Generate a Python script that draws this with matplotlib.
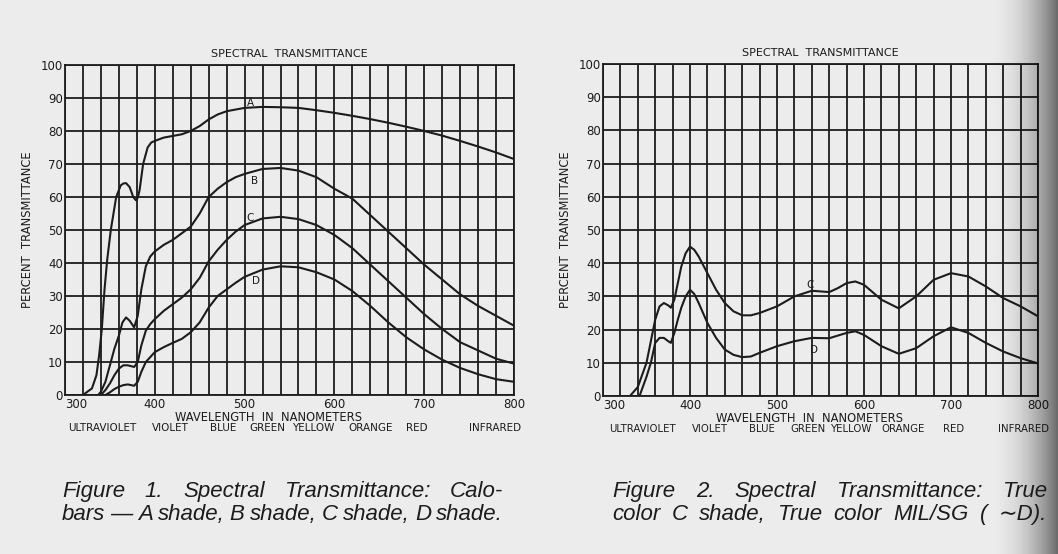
import numpy as np
import matplotlib.pyplot as plt

# ---- Figure 1 : Calobars A, B, C, D shades ----
wl_A = [320, 330, 335, 338, 341, 344, 347, 351, 357, 362, 365, 368, 372, 376, 379, 381, 383, 387, 392, 396, 400,
        410, 420, 430, 440, 450, 460, 470, 480, 500, 520, 540, 560, 580, 600, 620, 640, 660, 680,
        700, 720, 740, 760, 780, 800]
A = [0, 2, 6, 12, 20, 32, 41, 50, 60, 63.5, 64.1, 64.2, 63, 60, 59, 59.8, 62, 70, 75, 76.5, 77,
     78, 78.5, 79, 80, 81.5, 83.5, 85, 86, 87, 87.3, 87.2, 87, 86.3, 85.5, 84.6, 83.6, 82.5, 81.3,
     80, 78.6, 77, 75.3, 73.5, 71.5]

wl_B = [337, 340, 345, 350, 355, 360, 364, 368, 372, 377, 381, 385, 390, 395, 400, 410, 420, 430, 440,
        450, 460, 470, 480, 490, 500, 520, 540, 560, 580, 600, 620, 640, 660, 680, 700, 720, 740,
        760, 780, 800]
B = [0, 1, 4, 9, 14, 18, 22, 23.5, 22.5, 20.5, 24, 32, 39, 42, 43.5, 45.5, 47, 49, 51,
     55, 60, 62.5, 64.5, 66, 67, 68.5, 68.8, 68, 66, 62.5, 59.5, 54.5, 49.5, 44.5, 39.5, 35, 30.5,
     27, 24, 21]

wl_C = [340, 345, 350, 355, 360, 365, 370, 377, 381, 385, 390, 395, 400, 410, 420, 430, 440, 450,
        460, 470, 480, 490, 500, 520, 540, 560, 580, 600, 620, 640, 660, 680, 700, 720, 740, 760,
        780, 800]
C = [0, 1.5, 3.5, 6, 8, 9, 9, 8.5, 10, 15, 19.5, 21.5, 23, 25.5, 27.5, 29.5, 32, 35.5,
     40.5, 44, 47, 49.5, 51.5, 53.5, 54, 53.3, 51.5, 48.5, 44.5, 39.5, 34.5, 29.5, 24.5, 20, 16, 13.5,
     11, 9.5]

wl_D = [345, 350, 355, 360, 365, 370, 377, 381, 385, 390, 395, 400, 410, 420, 430, 440, 450, 460,
        470, 480, 490, 500, 520, 540, 560, 580, 600, 620, 640, 660, 680, 700, 720, 740, 760, 780, 800]
D = [0, 0.8, 1.8, 2.5, 3, 3.2, 2.8, 4, 7, 10, 11.5, 13, 14.5, 15.8, 17, 19, 22, 26.5,
     30, 32, 34, 35.8, 38, 39, 38.7, 37.2, 35, 31.5, 27, 22, 17.5, 13.8, 10.7, 8.2, 6.3, 4.8, 4]

# ---- Figure 2 : True color C shade, MIL/SG (~D) ----
wl_C2 = [331, 340, 350, 360, 365, 370, 375, 378, 382, 386, 390, 395, 400, 405, 410, 420, 430, 440,
         450, 460, 470, 480, 500, 520, 540, 550, 560, 570, 580, 590, 600, 620, 640, 660, 680, 700,
         720, 740, 760, 780, 800]
C2 = [0, 2.7, 10, 23, 27, 28, 27.3, 26.6, 29, 34, 39, 43, 45, 44, 42, 37, 32, 28,
      25.5, 24.3, 24.3, 25, 27, 30, 31.7, 31.5, 31.3, 32.5, 34, 34.5, 33.5, 29, 26.4, 30, 35, 37,
      36, 33, 29.5, 27, 24]

wl_D2 = [342, 350, 355, 360, 365, 370, 375, 378, 382, 386, 390, 395, 400, 405, 410, 420, 430, 440,
         450, 460, 470, 480, 500, 520, 540, 560, 580, 590, 600, 620, 640, 660, 680, 700, 720, 740,
         760, 780, 800]
D2 = [0, 5.8, 10, 16, 17.5, 17.5, 16.5, 16, 19, 23, 26.6, 30, 32, 30.7, 28, 22, 17.5, 14,
      12.4, 11.7, 11.9, 13, 15, 16.5, 17.5, 17.4, 19, 19.5, 18.4, 15, 12.7, 14.4, 18, 20.7, 19, 16,
      13.4, 11.4, 9.8]

bands = ["ULTRAVIOLET", "VIOLET", "BLUE", "GREEN", "YELLOW", "ORANGE", "RED", "INFRARED"]
band_x1 = [341, 417, 476, 525, 576, 640, 692, 779]
band_x2 = [345, 423, 483, 536, 586, 645, 703, 783]

cap1 = ["Figure  1.  Spectral  Transmittance:  Calo-",
        "bars \u2014 A shade, B shade, C shade, D shade."]
cap2 = ["Figure  2.  Spectral  Transmittance:  True",
        "color C shade, True color MIL/SG ( \u223cD)."]

W, H = 1058, 554
bg = '#ececec'
ink = '#1c1c1c'

fig = plt.figure(figsize=(W / 100, H / 100), dpi=100, facecolor=bg)


def setup(ax, xlab_x):
    ax.set_facecolor('none')
    ax.set_xlim(300, 800)
    ax.set_ylim(0, 100)
    ax.set_xticks(range(300, 801, 100))
    ax.set_xticks(range(300, 801, 20), minor=True)
    ax.set_yticks(range(0, 101, 10))
    ax.grid(True, which='both', color=ink, lw=1.3)
    ax.set_axisbelow(True)
    for s in ax.spines.values():
        s.set_color(ink)
        s.set_linewidth(1.3)
    ax.tick_params(which='both', length=0, labelsize=8.5, colors=ink)
    ax.tick_params(axis='y', pad=1.5)
    ax.tick_params(axis='x', pad=2)
    ax.get_xticklabels()[0].set_ha('left')
    ax.set_title("SPECTRAL  TRANSMITTANCE", fontsize=8, color=ink, pad=6)
    ax.set_ylabel("PERCENT  TRANSMITTANCE", fontsize=8.3, color=ink, labelpad=5)
    ax.set_xlabel("WAVELENGTH  IN  NANOMETERS", fontsize=8.3, color=ink, va='center')
    ax.xaxis.set_label_coords(xlab_x, -0.067)


ax1 = fig.add_axes([65 / W, 1 - 395 / H, 449 / W, 330 / H])
setup(ax1, 0.454)
for wl, v in [(wl_A, A), (wl_B, B), (wl_C, C), (wl_D, D)]:
    ax1.plot(wl, v, color=ink, lw=1.5, solid_joinstyle='round')
for lab, x, y in [("A", 506, 88.5), ("B", 511, 65), ("C", 506, 53.5), ("D", 513, 34.5)]:
    ax1.text(x, y, lab, fontsize=7.5, color=ink, ha='center', va='center')
for name, x in zip(bands, band_x1):
    ax1.text(x, -0.10, name, fontsize=7.5, color=ink, ha='center', va='center',
             transform=ax1.get_xaxis_transform())

ax2 = fig.add_axes([603 / W, 1 - 396 / H, 435 / W, 332 / H])
setup(ax2, 0.474)
for wl, v in [(wl_C2, C2), (wl_D2, D2)]:
    ax2.plot(wl, v, color=ink, lw=1.5, solid_joinstyle='round')
for lab, x, y in [("C", 538, 33.5), ("D", 542, 14)]:
    ax2.text(x, y, lab, fontsize=7.5, color=ink, ha='center', va='center')
for name, x in zip(bands, band_x2):
    ax2.text(x, -0.10, name, fontsize=7.3, color=ink, ha='center', va='center',
             transform=ax2.get_xaxis_transform())

# justified captions: words spread between x0 and x1
renderer = fig.canvas.get_renderer()
cap_font = ['Liberation Sans', 'DejaVu Sans']


def justify(line, x0, x1, ybase, size=16):
    words = line.split()
    texts = [fig.text(0, 1 - ybase / H, w, fontsize=size, style='italic', family=cap_font,
                      color=ink, va='baseline') for w in words]
    widths = [t.get_window_extent(renderer).width for t in texts]
    gap = (x1 - x0 - sum(widths)) / (len(words) - 1)
    x = x0
    for t, w in zip(texts, widths):
        t.set_x(x / W)
        x += w + gap


justify(cap1[0], 62, 503, 497)
justify(cap1[1], 62, 503, 520)
justify(cap2[0], 612, 1047, 497)
justify(cap2[1], 612, 1047, 520)

# page shadow at the right edge of the scan
sh = fig.add_axes([985 / W, 0, 73 / W, 1])
sh.set_axis_off()
ramp = np.linspace(0, 1, 73) ** 2.2 * 0.55
img = np.zeros((2, 73, 4))
img[..., 3] = ramp
sh.imshow(img, aspect='auto', extent=[0, 1, 0, 1])
sh.set_xlim(0, 1)
sh.set_ylim(0, 1)

fig.savefig("out.png", dpi=100, facecolor=bg)
